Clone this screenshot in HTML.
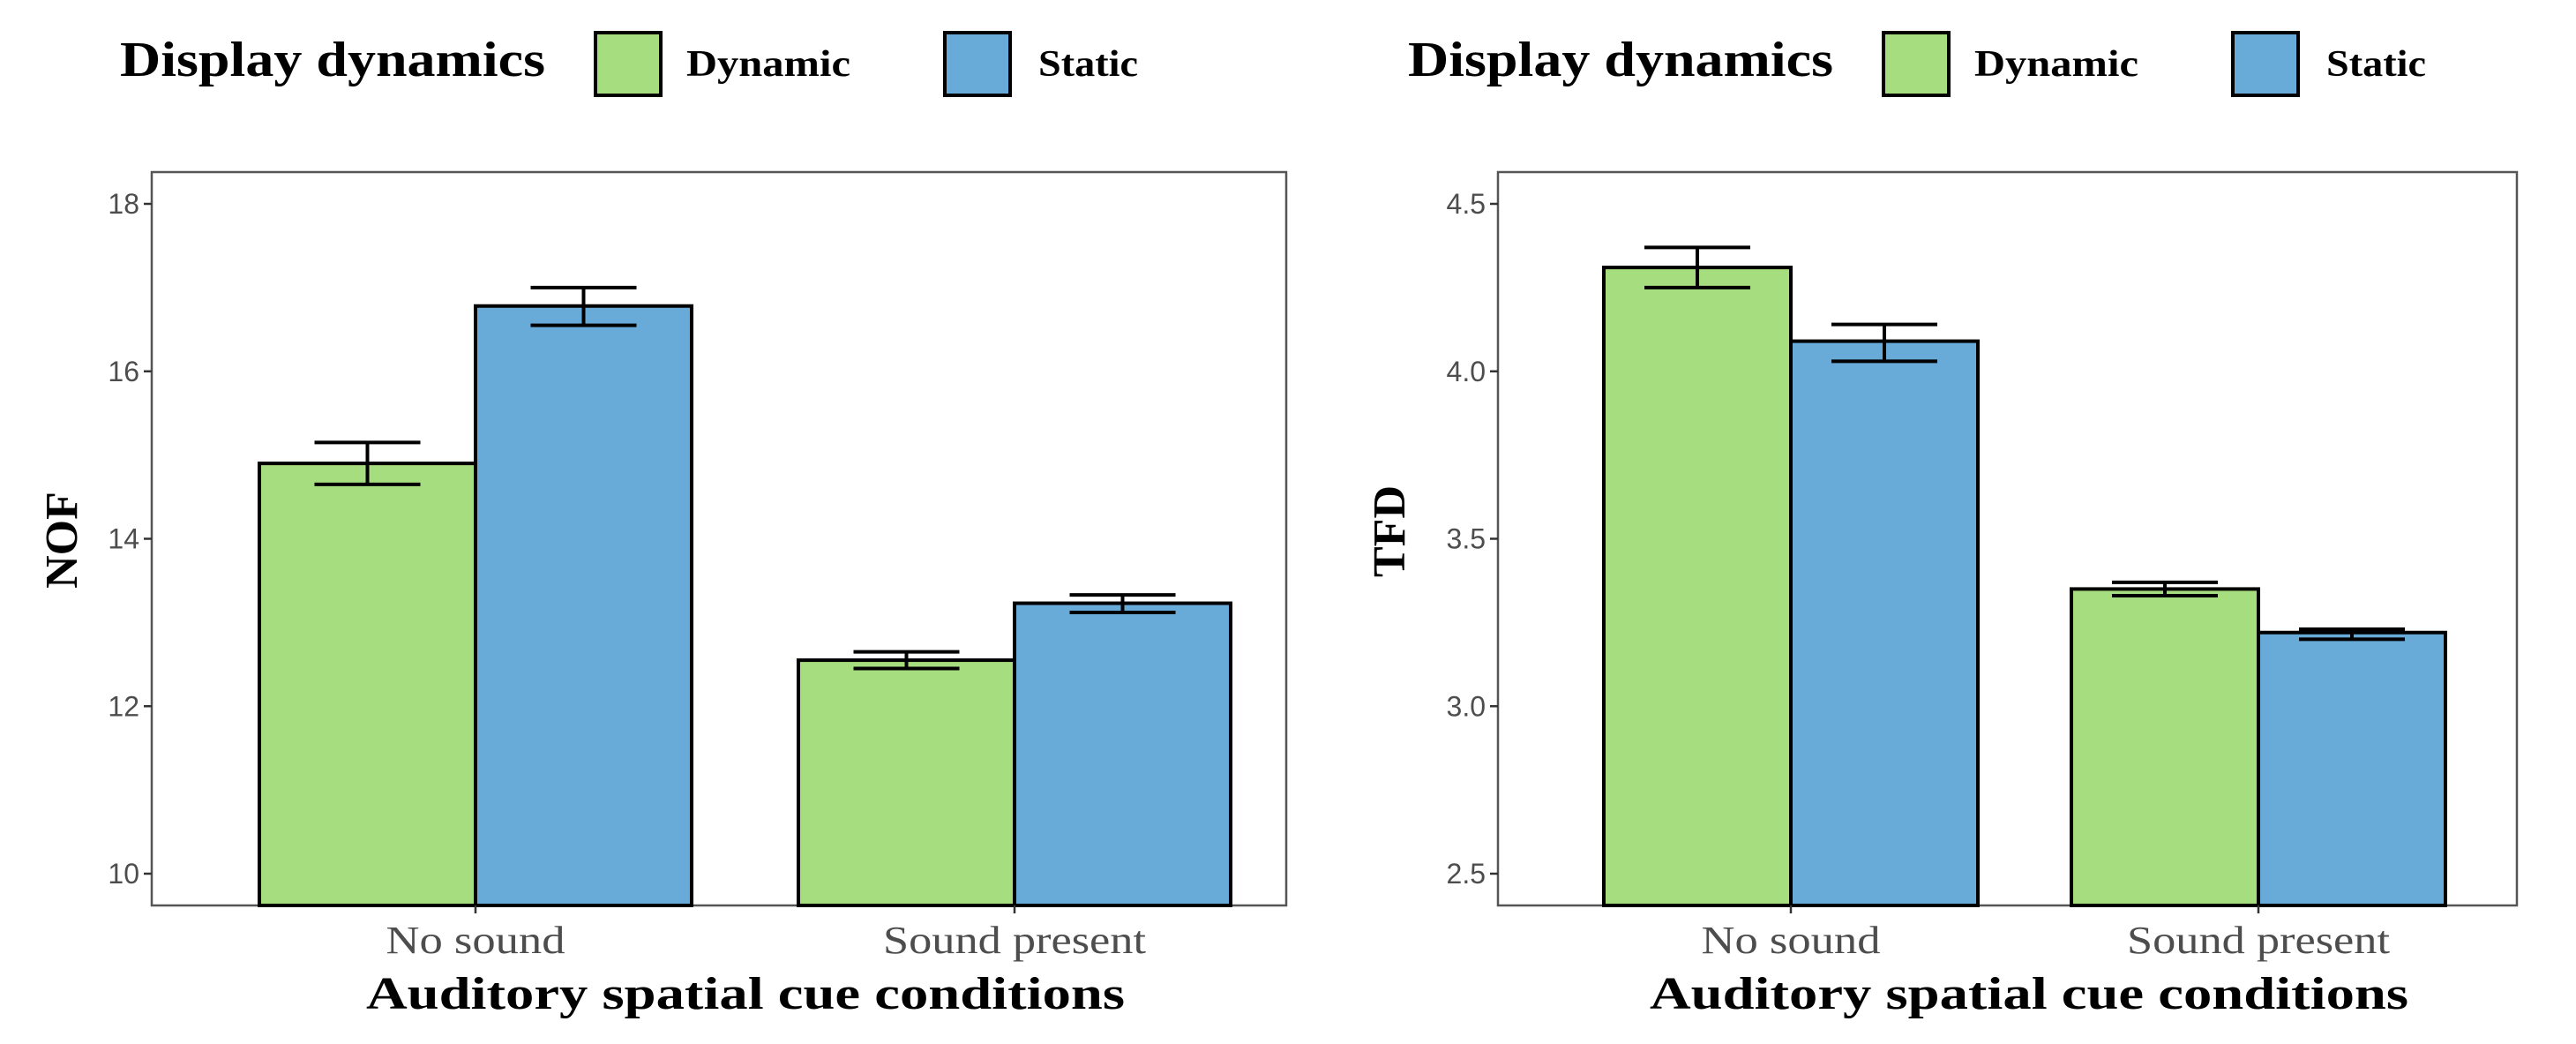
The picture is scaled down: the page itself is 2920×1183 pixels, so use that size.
<!DOCTYPE html>
<html><head><meta charset="utf-8"><style>
html,body{margin:0;padding:0;background:#fff;}
svg{display:block;}
.tick{font-family:"Liberation Sans",sans-serif;font-size:32px;fill:#4d4d4d;}
.cat{font-family:"Liberation Serif",serif;font-size:44px;fill:#4d4d4d;}
.ttl{font-family:"Liberation Serif",serif;font-size:52px;font-weight:bold;fill:#000;}
.leg{font-family:"Liberation Serif",serif;font-size:56px;font-weight:bold;fill:#000;}
.legi{font-family:"Liberation Serif",serif;font-size:42px;font-weight:bold;fill:#000;}
</style></head><body>
<svg id="chart" width="2920" height="1183" viewBox="0 0 2920 1183" xmlns="http://www.w3.org/2000/svg"></svg>
<script>
const categories = ["No sound", "Sound present"];
const series = ["Dynamic", "Static"];
const nofDynamic = [14.9, 12.55];
const nofStatic = [16.78, 13.23];
const nofDynamicLo = [14.65, 12.45];
const nofDynamicHi = [15.15, 12.65];
const nofStaticLo = [16.55, 13.12];
const nofStaticHi = [17.0, 13.33];
const nofTicks = [10, 12, 14, 16, 18];
const nofTickLabels = ["10", "12", "14", "16", "18"];
const tfdDynamic = [4.31, 3.35];
const tfdStatic = [4.09, 3.22];
const tfdDynamicLo = [4.25, 3.33];
const tfdDynamicHi = [4.37, 3.37];
const tfdStaticLo = [4.03, 3.20];
const tfdStaticHi = [4.14, 3.23];
const tfdTicks = [2.5, 3.0, 3.5, 4.0, 4.5];
const tfdTickLabels = ["2.5", "3.0", "3.5", "4.0", "4.5"];

const NS = "http://www.w3.org/2000/svg";
const svg = document.getElementById('chart');
const colors = ["#a6dd7f", "#68abd9"];
const catWidths = [203, 298];
function mk(tag, attrs, parent) {
  const e = document.createElementNS(NS, tag);
  for (const k in attrs) e.setAttribute(k, attrs[k]);
  (parent || svg).appendChild(e);
  return e;
}

function legend(x0) {
  const g = mk('g', {});
  
  
  const t = mk('text', {x: x0, y: 86, class: 'leg', textLength: 482, lengthAdjust: 'spacingAndGlyphs'}, g);
  t.textContent = 'Display dynamics';
  
  
  const keyX = [x0 + 539, x0 + 935];
  const txtX = [x0 + 642, x0 + 1041];
  const txtW = [186, 113];
  series.forEach((s, i) => {
    const r = mk('rect', {x: keyX[i], y: 37, width: 74, height: 71, fill: colors[i], stroke: '#000', 'stroke-width': 4}, g);
    
    
    const tt = mk('text', {x: txtX[i], y: 86, class: 'legi', textLength: txtW[i], lengthAdjust: 'spacingAndGlyphs'}, g);
    tt.textContent = s;
    
    
  });
}

function panel(p) {
  const g = mk('g', {});
  
  
  const top = 195, bot = 1026;
  const y = v => p.y0px + (v - p.v0) * (p.y1px - p.y0px) / (p.v1 - p.v0);
  const box = mk('rect', {x: p.left, y: top, width: p.right - p.left, height: bot - top, fill: 'none', stroke: '#555', 'stroke-width': 2.5}, g);
  
  
  p.ticks.forEach((tv, i) => {
    const ty = y(tv);
    const l = mk('line', {x1: p.left - 9, x2: p.left, y1: ty, y2: ty, stroke: '#333', 'stroke-width': 2.5}, g);
    
    
    const t = mk('text', {x: p.left - 14, y: ty + 11, class: 'tick', 'text-anchor': 'end'}, g);
    t.textContent = p.tickLabels[i];
    
    
  });
  const bw = p.bw;
  const vals = [p.dyn, p.sta], lo = [p.dynLo, p.staLo], hi = [p.dynHi, p.staHi];
  categories.forEach((c, ci) => {
    const cx = p.centers[ci];
    [0, 1].forEach(si => {
      const x = si === 0 ? cx - bw : cx;
      const v = vals[si][ci];
      const r = mk('rect', {x: x, y: y(v), width: bw, height: bot - y(v), fill: colors[si], stroke: '#000', 'stroke-width': 4}, g);
      
      
      const ex = x + bw / 2, ew = 60;
      const eg = mk('g', {stroke: '#000', 'stroke-width': 4}, g);
      
      
      mk('line', {x1: ex, x2: ex, y1: y(lo[si][ci]), y2: y(hi[si][ci])}, eg);
      mk('line', {x1: ex - ew, x2: ex + ew, y1: y(lo[si][ci]), y2: y(lo[si][ci])}, eg);
      mk('line', {x1: ex - ew, x2: ex + ew, y1: y(hi[si][ci]), y2: y(hi[si][ci])}, eg);
    });
    const tk = mk('line', {x1: cx, x2: cx, y1: bot, y2: bot + 9, stroke: '#333', 'stroke-width': 2.5}, g);
    
    
    const t = mk('text', {x: cx, y: 1080, class: 'cat', 'text-anchor': 'middle', textLength: catWidths[ci], lengthAdjust: 'spacingAndGlyphs'}, g);
    t.textContent = c;
    
    
  });
  const xt = mk('text', {x: p.xTitleX, y: 1143, class: 'ttl', 'text-anchor': 'middle', textLength: 860, lengthAdjust: 'spacingAndGlyphs'}, g);
  xt.textContent = 'Auditory spatial cue conditions';
  
  
  const yt = mk('text', {x: 0, y: 0, class: 'ttl', 'text-anchor': 'middle', transform: 'translate(' + p.yTitleX + ',' + p.yTitleY + ') rotate(-90)'}, g);
  yt.textContent = p.yTitle;
  
  
}

legend(136);
legend(1596);
panel({name: 'nof-panel', left: 172, right: 1458, v0: 10, v1: 18, y0px: 990, y1px: 231,
  ticks: nofTicks, tickLabels: nofTickLabels, bw: 245, centers: [539, 1150],
  dyn: nofDynamic, sta: nofStatic, dynLo: nofDynamicLo, dynHi: nofDynamicHi, staLo: nofStaticLo, staHi: nofStaticHi,
  xTitleX: 845, yTitle: 'NOF', yTitleX: 87, yTitleY: 612});
panel({name: 'tfd-panel', left: 1698, right: 2853, v0: 2.5, v1: 4.5, y0px: 990, y1px: 231,
  ticks: tfdTicks, tickLabels: tfdTickLabels, bw: 212, centers: [2030, 2560],
  dyn: tfdDynamic, sta: tfdStatic, dynLo: tfdDynamicLo, dynHi: tfdDynamicHi, staLo: tfdStaticLo, staHi: tfdStaticHi,
  xTitleX: 2300, yTitle: 'TFD', yTitleX: 1592, yTitleY: 602});
</script>
</body></html>
